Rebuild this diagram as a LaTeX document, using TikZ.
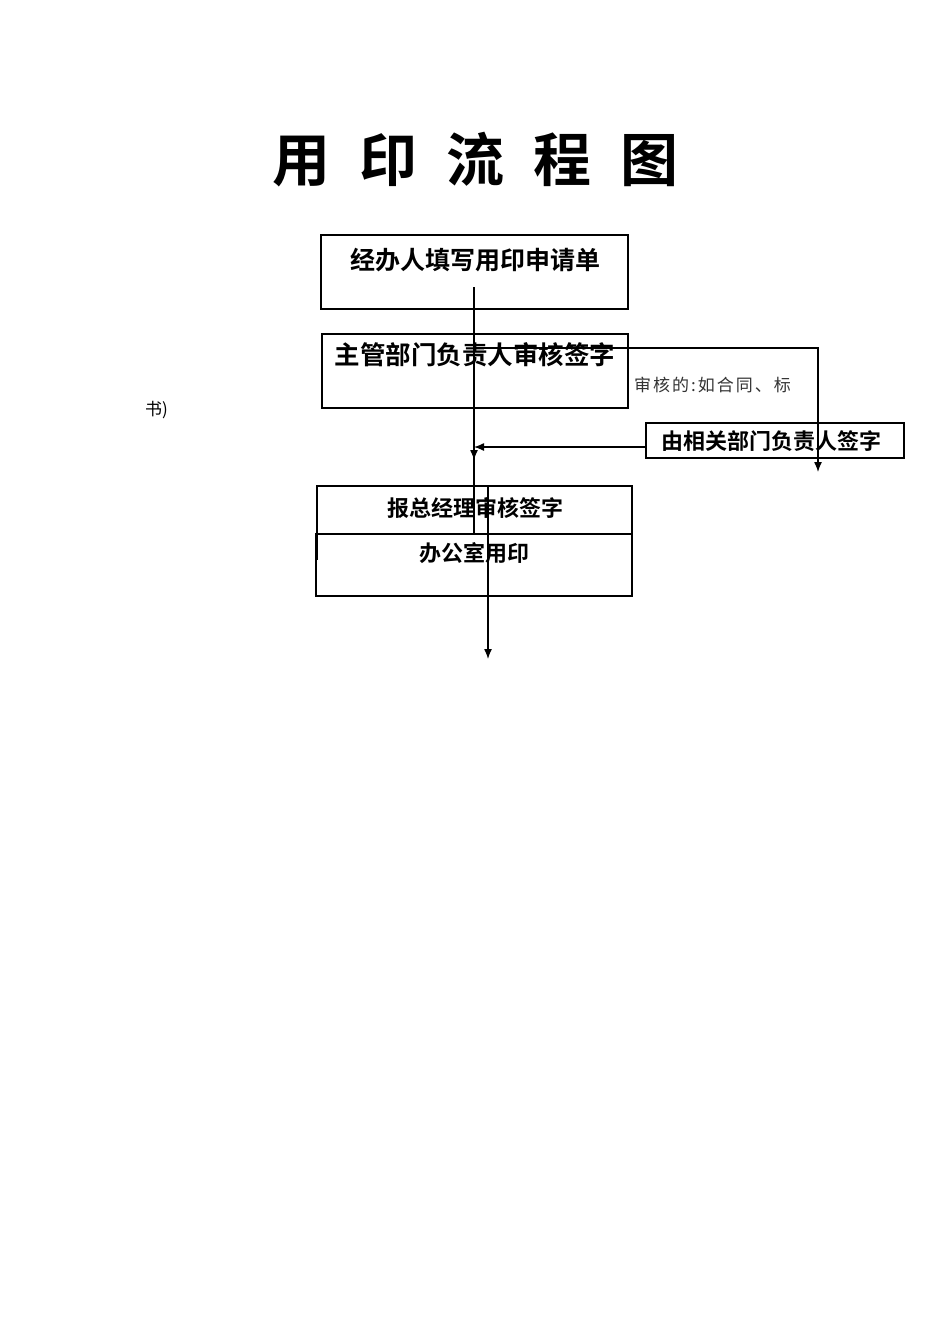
\documentclass[tikz,border=0pt]{standalone}
\usepackage{fontspec}
\newfontfamily\cjk{Noto Sans CJK SC}
\newfontfamily\cjkb{Noto Sans CJK SC Bold}
\usetikzlibrary{arrows.meta}
\begin{document}
\begin{tikzpicture}[x=1pt,y=-1pt,
  bx/.style={draw,line width=1.5pt},
  lab/.style={font=\cjkb\fontsize{25}{25}\selectfont,inner sep=0},
  arr/.style={line width=1.3pt,-{Latex[length=10pt,width=8pt]}},
  ln/.style={line width=1.3pt}]
\useasboundingbox (0,0) rectangle (950,1344);
\node[font=\cjkb\fontsize{58}{58}\selectfont,inner sep=0] (title) at (475,160) {用\hspace{0.5em}印\hspace{0.5em}流\hspace{0.5em}程\hspace{0.5em}图};
\draw[bx] (321,235) rectangle (628,309); \node[lab] (t1) at (475,260) {经办人填写用印申请单};
\draw[bx] (322,334) rectangle (628,408); \node[lab,font=\cjkb\fontsize{25.5}{25.5}\selectfont] (t2) at (475,355) {主管部门负责人审核签字};
\draw[bx] (646,423) rectangle (904,458); \node[lab,font=\cjkb\fontsize{22}{22}\selectfont] (t3) at (771.5,441) {由相关部门负责人签字};
\draw[bx] (317,560) -- (317,486) -- (632,486) -- (632,560);
\node[lab,font=\cjkb\fontsize{22}{22}\selectfont] (t4) at (475,508) {报总经理审核签字};
\draw[bx] (316,534) rectangle (632,596);
\node[lab,font=\cjkb\fontsize{22}{22}\selectfont] (t5) at (474,553) {办公室用印};
\node[font=\cjk\fontsize{17}{17}\selectfont,text=black!80,inner sep=0,anchor=west] (n1) at (634,385) {审\hspace{2pt}核\hspace{2pt}的\hspace{2pt}:\hspace{2pt}如\hspace{2pt}合\hspace{2pt}同\hspace{2pt}、\hspace{2pt}标};
\node[font=\cjk\fontsize{17}{17}\selectfont,inner sep=0,anchor=west] (n2) at (145,410) {书)};
\coordinate (a0) at (474,287); \coordinate (a1) at (474,460); \coordinate (a2) at (474,534);
\draw[ln] (a0) -- (a2);
\draw[arr] (a0) -- (a1);
\coordinate (h0) at (474,348); \coordinate (h1) at (818,348); \coordinate (h2) at (818,472);
\draw[arr] (h0) -- (h1) -- (h2);
\coordinate (b0) at (646,447); \coordinate (b1) at (474,447);
\draw[arr] (b0) -- (b1);
\coordinate (c0) at (488,486); \coordinate (c1) at (488,659);
\draw[arr] (c0) -- (c1);
\end{tikzpicture}
\end{document}
